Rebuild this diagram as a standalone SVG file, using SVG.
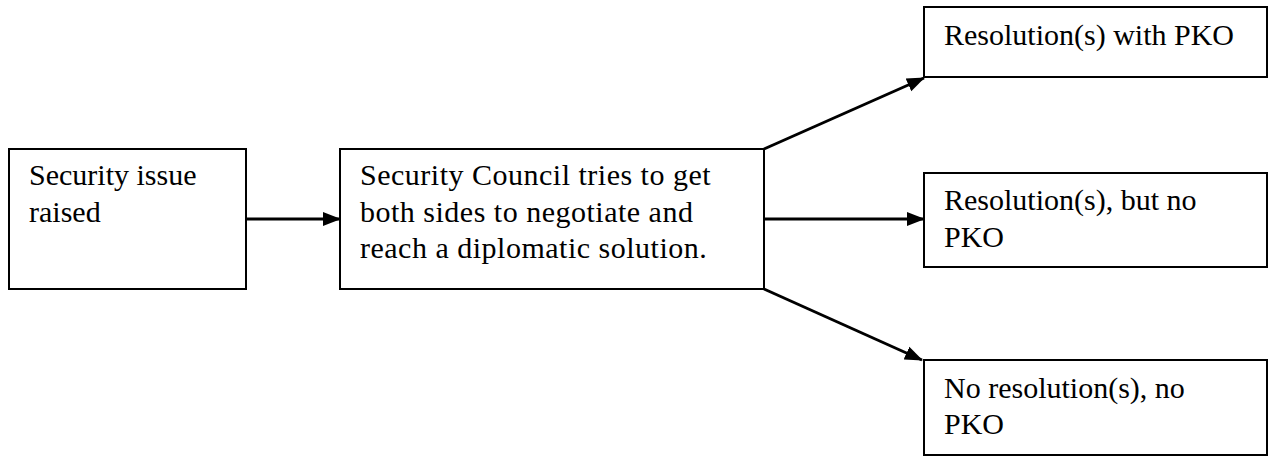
<svg xmlns="http://www.w3.org/2000/svg" width="1288" height="457" viewBox="0 0 1288 457">
<style>
.box{fill:#fff;stroke:#000;stroke-width:2}
.t{font-family:"Liberation Serif","Times New Roman",serif;font-size:30px;fill:#000}
.w{letter-spacing:0.5px}
.c{stroke:#000;stroke-width:3;fill:none}
</style>
<defs>
<marker id="ah" markerUnits="userSpaceOnUse" markerWidth="18" markerHeight="16" refX="17" refY="8" orient="auto" viewBox="0 0 18 16">
<path d="M0,1 L18,8 L0,15 Z" fill="#000"/>
</marker>
</defs>
<rect width="1288" height="457" fill="#fff"/>
<g id="connectors">
<line class="c" x1="246" y1="219" x2="340" y2="219" marker-end="url(#ah)"/>
<line class="c" x1="764" y1="149" x2="924" y2="78" marker-end="url(#ah)"/>
<line class="c" x1="764" y1="219" x2="924" y2="219" marker-end="url(#ah)"/>
<line class="c" x1="764" y1="289" x2="922" y2="360" marker-end="url(#ah)"/>
</g>
<g id="n1">
<rect class="box" x="9" y="149" width="237" height="140"/>
<text class="t" x="29" y="185">Security issue</text>
<text class="t" x="29" y="222">raised</text>
</g>
<g id="n2">
<rect class="box" x="340" y="149" width="424" height="140"/>
<text class="t w" x="360" y="185">Security Council tries to get</text>
<text class="t w" x="360" y="222">both sides to negotiate and</text>
<text class="t w" x="360" y="258">reach a diplomatic solution.</text>
</g>
<g id="n3">
<rect class="box" x="924" y="7" width="343" height="70"/>
<text class="t" x="944" y="45">Resolution(s) with PKO</text>
</g>
<g id="n4">
<rect class="box" x="924" y="173" width="343" height="94"/>
<text class="t" x="944" y="210">Resolution(s), but no</text>
<text class="t" x="944" y="247">PKO</text>
</g>
<g id="n5">
<rect class="box" x="924" y="360" width="343" height="95"/>
<text class="t" x="944" y="398">No resolution(s), no</text>
<text class="t" x="944" y="434">PKO</text>
</g>
</svg>
